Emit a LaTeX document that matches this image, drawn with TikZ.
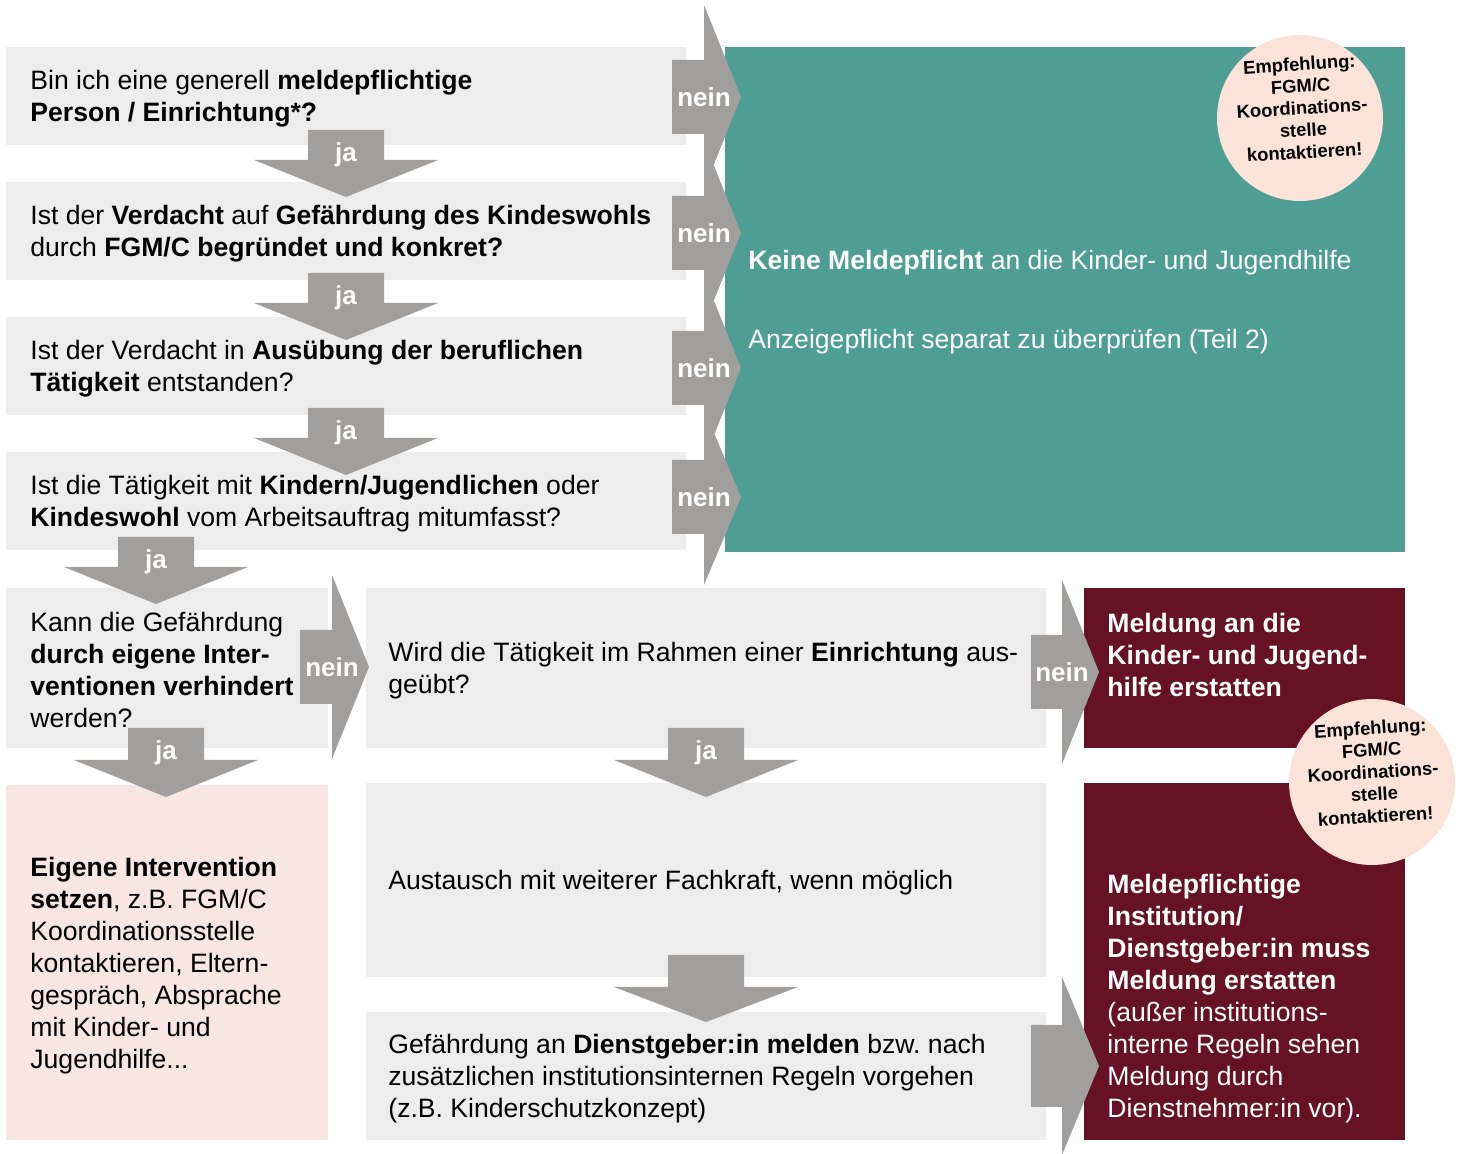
\documentclass[tikz,border=0pt]{standalone}
\usepackage{fontspec}
\setmainfont{Liberation Sans}
\usetikzlibrary{fit}
\frenchspacing
\definecolor{boxgray}{RGB}{237,237,237}
\definecolor{arrowgray}{RGB}{160,159,158}
\definecolor{tealbox}{RGB}{79,158,148}
\definecolor{maroonbox}{RGB}{102,18,36}
\definecolor{pinkbox}{RGB}{248,230,227}
\definecolor{peach}{RGB}{251,227,217}
\tikzset{
  qbox/.style={fill=boxgray, draw=none, inner sep=0pt},
  txt/.style={inner sep=0pt, align=left, anchor=west, font=\fontsize{13.3}{16}\selectfont},
  wtxt/.style={txt, text=white},
  lbl/.style={text=white, inner sep=0pt, font=\bfseries\fontsize{13}{14}\selectfont},
  badge/.style={circle, fill=peach, minimum size=83pt, inner sep=0pt},
  badgetxt/.style={align=center, inner sep=0pt, rotate=3.5, font=\bfseries\fontsize{9.2}{11}\selectfont},
}
% down arrow: name, cx, stem top, head base, tip, label
\newcommand{\jaArrow}[6]{%
  \fill[arrowgray] (#2-38,#3) -- (#2+38,#3) -- (#2+38,#4) -- (#2+92,#4) -- (#2,#5)
     -- (#2-92,#4) -- (#2-38,#4) -- cycle;
  \node[lbl] (#1) at (#2,#3+25) {#6};}
% right arrow: name, x0, head base x, y centre, box half height, head half height, label
\newcommand{\neinArrow}[7]{%
  \fill[arrowgray] (#2,#4-#5) -- (#3,#4-#5) -- (#3,#4-#6) -- (#3+37,#4) -- (#3,#4+#6)
     -- (#3,#4+#5) -- (#2,#4+#5) -- cycle;
  \node[lbl] (#1) at (#3,#4) {#7};}
\begin{document}
\begin{tikzpicture}[x=0.5pt,y=-0.5pt]
\useasboundingbox (0,0) rectangle (1464,1154);
% boxes
\node[qbox, fit={(6,47) (686,145)}] (q1) {};
\node[qbox, fit={(6,182) (686,280)}] (q2) {};
\node[qbox, fit={(6,317) (686,415)}] (q3) {};
\node[qbox, fit={(6,452) (686,550)}] (q4) {};
\node[qbox, fit={(6,588) (328,748)}] (q5) {};
\node[qbox, fit={(366,588) (1046,748)}] (q6) {};
\node[qbox, fit={(366,783) (1046,977)}] (m2) {};
\node[qbox, fit={(366,1012) (1046,1140)}] (m3) {};
\node[qbox, fill=pinkbox, fit={(6,785) (328,1140)}] (own) {};
\node[qbox, fill=tealbox, fit={(725,47) (1405,552)}] (none) {};
\node[qbox, fill=maroonbox, fit={(1084,588) (1405,748)}] (rep1) {};
\node[qbox, fill=maroonbox, fit={(1084,783) (1405,1140)}] (rep2) {};
% texts
\node[txt] (t1) at (30,99) {Bin ich eine generell \textbf{meldepflichtige}\\\textbf{Person / Einrichtung*?}};
\node[txt] (t2) at (30,234) {Ist der \textbf{Verdacht} auf \textbf{Gefährdung des Kindeswohls}\\durch \textbf{FGM/C begründet und konkret?}};
\node[txt] (t3) at (30,369) {Ist der Verdacht in \textbf{Ausübung der beruflichen}\\\textbf{Tätigkeit} entstanden?};
\node[txt] (t4) at (30,504) {Ist die Tätigkeit mit \textbf{Kindern/Jugendlichen} oder\\\textbf{Kindeswohl} vom Arbeitsauftrag mitumfasst?};
\node[txt] (t5) at (30,670) {Kann die Gefährdung\\\textbf{durch eigene Inter-}\\\textbf{ventionen verhindert}\\werden?};
\node[txt] (t6) at (388,671) {Wird die Tätigkeit im Rahmen einer \textbf{Einrichtung} aus-\\geübt?};
\node[txt] (t7) at (388,883) {Austausch mit weiterer Fachkraft, wenn möglich};
\node[txt] (t8) at (388,1079) {Gefährdung an \textbf{Dienstgeber:in melden} bzw. nach\\zusätzlichen institutionsinternen Regeln vorgehen\\(z.B. Kinderschutzkonzept)};
\node[txt] (t9) at (30,966) {\textbf{Eigene Intervention}\\\textbf{setzen}, z.B. FGM/C\\Koordinationsstelle\\kontaktieren, Eltern-\\gespräch, Absprache\\mit Kinder- und\\Jugendhilfe...};
\node[wtxt] (t10) at (748,263) {\textbf{Keine Meldepflicht} an die Kinder- und Jugendhilfe};
\node[wtxt] (t11) at (748,342) {Anzeigepflicht separat zu überprüfen (Teil 2)};
\node[wtxt] (t12) at (1107,655) {\textbf{Meldung an die}\\\textbf{Kinder- und Jugend-}\\\textbf{hilfe erstatten}};
\node[wtxt] (t13) at (1107,999) {\textbf{Meldepflichtige}\\\textbf{Institution/}\\\textbf{Dienstgeber:in muss}\\\textbf{Meldung erstatten}\\(außer institutions-\\interne Regeln sehen\\Meldung durch\\Dienstnehmer:in vor).};
% nein arrows
\neinArrow{n1}{672}{704}{97}{37}{92}{nein}
\neinArrow{n2}{672}{704}{233}{37}{92}{nein}
\neinArrow{n3}{672}{704}{368}{37}{92}{nein}
\neinArrow{n4}{672}{704}{497}{37}{88}{nein}
\neinArrow{n5}{300}{332}{667}{37}{92}{nein}
\neinArrow{n6}{1031}{1062}{672}{37}{92}{nein}
\neinArrow{n7}{1031}{1062}{1066}{41}{89}{}
% ja arrows
\jaArrow{j1}{346}{130}{160}{197}{ja}
\jaArrow{j2}{346}{273}{303}{340}{ja}
\jaArrow{j3}{346}{408}{438}{475}{ja}
\jaArrow{j4}{156}{537}{567}{604}{ja}
\jaArrow{j5}{166}{728}{760}{797}{ja}
\jaArrow{j6}{706}{728}{760}{797}{ja}
\jaArrow{j7}{706}{955}{987}{1022}{}
% badges
\node[badge] (b1) at (1300,118) {};
\node[badgetxt] (bt1) at (1302,108) {Empfehlung:\\FGM/C\\Koordinations-\\stelle\\kontaktieren!};
\node[badge] (b2) at (1372,782) {};
\node[badgetxt] (bt2) at (1373,772) {Empfehlung:\\FGM/C\\Koordinations-\\stelle\\kontaktieren!};
\end{tikzpicture}
\end{document}
